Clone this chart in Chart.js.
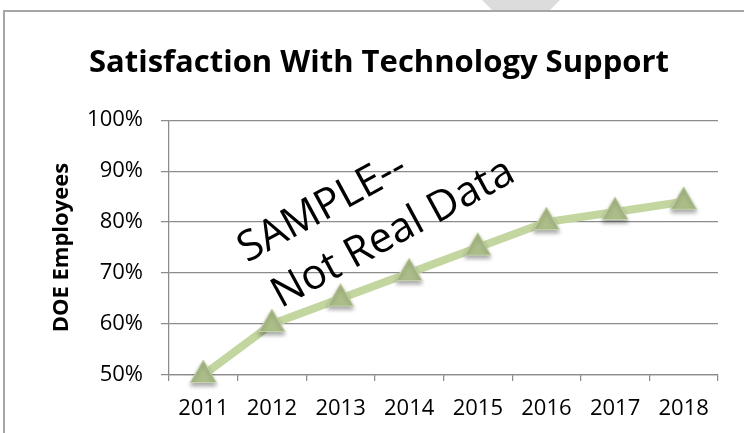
<!DOCTYPE html>
<html>
<head>
<meta charset="utf-8">
<script src="https://cdn.jsdelivr.net/npm/chart.js@4.4.1/dist/chart.umd.min.js"></script>
<style>
	body { margin: 0; background: #fff; }
	#wrap { position: relative; width: 744px; height: 433px; overflow: hidden; }
	#tri { position: absolute; left: 482px; top: 0; width: 78px; height: 39px; background: #dcdcdc; clip-path: polygon(0 0, 100% 0, 50% 100%); }
	#frame { position: absolute; left: 3px; top: 10px; width: 800px; height: 500px; border: 2px solid #a6a6a6; background: #fff; }
	#chart { position: absolute; left: 0; top: 0; }
</style>
</head>
<body>
<div id="wrap">
	<div id="tri"></div>
	<div id="frame"></div>
	<canvas id="chart" width="744" height="433"></canvas>
</div>
<script>
var years = ['2011', '2012', '2013', '2014', '2015', '2016', '2017', '2018'];
var satisfaction = [50, 60, 65, 70, 75, 80, 82, 84];
var yMin = 50;
var yMax = 100;
var yStep = 10;
var chartTitle = 'Satisfaction With Technology Support';
var yTitle = 'DOE Employees';
var watermark = ['SAMPLE--', 'Not Real Data'];

var font = '"Open Sans"';
var gridColor = '#8c8c8c';

// shadow under the triangle markers only
var markerShadow = {
	id: 'markerShadow',
	beforeDatasetDraw: function(chart, args) {
		if (args.index != 0) return;
		var ctx = chart.ctx;
		ctx.save();
		ctx.shadowColor = 'rgba(0,0,0,0.35)';
		ctx.shadowBlur = 4;
		ctx.shadowOffsetY = 3;
	},
	afterDatasetDraw: function(chart, args) {
		if (args.index != 0) return;
		chart.ctx.restore();
	}
};

// the rotated "sample" text over the plot
var stamp = {
	id: 'stamp',
	afterDatasetsDraw: function(chart) {
		var ctx = chart.ctx;
		ctx.save();
		ctx.translate(247, 263);
		ctx.rotate(-28.5 * Math.PI / 180);
		ctx.font = '42px ' + font;
		ctx.fillStyle = '#000';
		ctx.textAlign = 'left';
		ctx.textBaseline = 'alphabetic';
		ctx.fillText(watermark[0], 0, 0);
		ctx.fillText(watermark[1], 8, 56);
		ctx.restore();
	}
};

var ctx = document.getElementById('chart');
var chart = new Chart(ctx, {
	type: 'line',
	data: {
		labels: years,
		datasets: [{
			// markers
			data: satisfaction,
			showLine: false,
			pointStyle: 'triangle',
			pointRadius: 15,
			pointBackgroundColor: '#abbd88',
			pointBorderColor: '#c6d4ab',
			pointBorderWidth: 1,
			clip: false,
			order: 1
		}, {
			// line
			data: satisfaction,
			borderColor: '#c4d6a0',
			borderWidth: 8,
			pointRadius: 0,
			tension: 0,
			clip: false,
			order: 2
		}]
	},
	options: {
		responsive: false,
		animation: false,
		layout: { padding: { left: 40, right: 26, top: 0, bottom: 0 } },
		plugins: {
			legend: { display: false },
			tooltip: { enabled: false },
			title: {
				display: true,
				text: chartTitle,
				color: '#000',
				font: { family: font, size: 31, weight: 'bold' },
				padding: { top: 45, bottom: 38 }
			}
		},
		scales: {
			x: {
				offset: true,
				grid: { offset: true, drawOnChartArea: false, tickLength: 6, color: gridColor, lineWidth: 1.25 },
				border: { color: gridColor, width: 1.25 },
				ticks: { color: '#000', font: { family: font, size: 22 }, padding: 15, maxRotation: 0 },
				afterFit: function(scale) { scale.height = 58; }
			},
			y: {
				min: yMin,
				max: yMax,
				grid: { tickLength: 8, color: gridColor, lineWidth: 1.25 },
				border: { color: gridColor, width: 1.25 },
				ticks: {
					stepSize: yStep,
					color: '#000',
					font: { family: font, size: 22 },
					padding: 18,
					callback: function(v) { return v + '%'; }
				},
				title: {
					display: true,
					text: yTitle,
					color: '#000',
					font: { family: font, size: 22, weight: 'bold' },
					padding: { top: 9, bottom: 0 }
				},
				afterFit: function(scale) { scale.width = 129; }
			}
		}
	},
	plugins: [markerShadow, stamp]
});
</script>
</body>
</html>
